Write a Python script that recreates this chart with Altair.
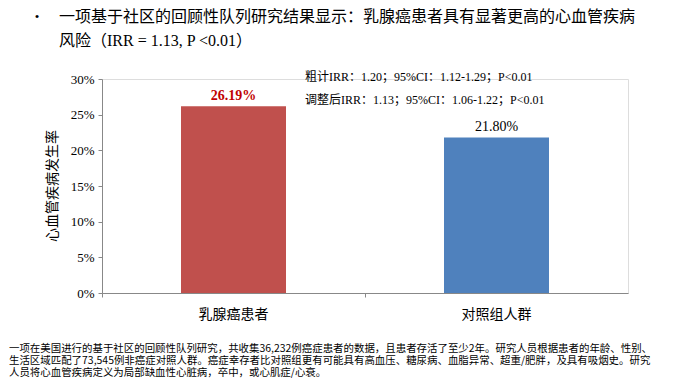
import altair as alt
import pandas as pd

categories = ["乳腺癌患者", "对照组人群"]
rates = [0.2619, 0.2180]
rate_labels = ["26.19%", "21.80%"]
bar_colors = ["#C0504D", "#4F81BD"]
y_ticks = [0, 0.05, 0.1, 0.15, 0.2, 0.25, 0.3]

title_lines = ["一项基于社区的回顾性队列研究结果显示：乳腺癌患者具有显著更高的心血管疾病",
               "风险（IRR = 1.13, P <0.01）"]
stat_lines = ["粗计IRR：1.20；95%CI：1.12-1.29；P<0.01",
              "调整后IRR：1.13；95%CI：1.06-1.22；P<0.01"]
foot_lines = ["一项在美国进行的基于社区的回顾性队列研究，共收集36,232例癌症患者的数据，且患者存活了至少2年。研究人员根据患者的年龄、性别、",
              "生活区域匹配了73,545例非癌症对照人群。癌症幸存者比对照组更有可能具有高血压、糖尿病、血脂异常、超重/肥胖，及具有吸烟史。研究",
              "人员将心血管疾病定义为局部缺血性心脏病，卒中，或心肌症/心衰。"]
y_title = "心血管疾病发生率"

FONT = "Liberation Serif, Noto Sans CJK SC"
CJK = "Noto Sans CJK SC, Liberation Serif"

df = pd.DataFrame({"cat": categories, "rate": rates, "lab": rate_labels, "color": bar_colors})

xenc = alt.X("cat:N", sort=categories,
             scale=alt.Scale(paddingInner=0, paddingOuter=0),
             axis=alt.Axis(title=None, labels=False, bandPosition=0, tickSize=4,
                           domainColor="#888888", tickColor="#888888"))
yenc = alt.Y("rate:Q", scale=alt.Scale(domain=[0, 0.3]),
             axis=alt.Axis(title=None, format=".0%", values=y_ticks, labelOverlap=False,
                           grid=False, tickSize=4, domainColor="#888888", tickColor="#888888",
                           labelFont=FONT, labelFontSize=13, labelColor="#000000", labelPadding=4))

base = alt.Chart(df)
bars = base.mark_bar(size=105).encode(x=xenc, y=yenc, color=alt.Color("color:N", scale=None))
lab_red = alt.Chart(df.iloc[[0]]).mark_text(dy=-10, font=FONT, fontSize=14, fontWeight="bold", color="#C00000").encode(
    x=xenc, y=yenc, text="lab:N")
lab_blue = alt.Chart(df.iloc[[1]]).mark_text(dy=-10, font=FONT, fontSize=14, color="#000000").encode(
    x=xenc, y=yenc, text="lab:N")
xlabels = base.mark_text(font=CJK, fontSize=14, baseline="middle").encode(
    x=xenc, y=alt.value(236), text="cat:N")

def txt(s, x, y, size, align="left", font=CJK, angle=0, color="#000000", baseline="middle"):
    d = pd.DataFrame({"t": [s]})
    kw = dict(align=align, baseline=baseline, font=font, fontSize=size, color=color)
    if angle:
        kw["angle"] = angle
    return alt.Chart(d).mark_text(**kw).encode(x=alt.value(x), y=alt.value(y), text="t:N")

layers = [bars, lab_red, lab_blue, xlabels,
          txt("•", -65, -58, 13, align="center", font="Liberation Serif", baseline="alphabetic"),
          txt(title_lines[0], -43, -62, 16, font=FONT),
          txt(title_lines[1], -43, -38, 16, font=FONT),
          txt(stat_lines[0], 203, -2, 12, font=FONT),
          txt(stat_lines[1], 203, 21, 12, font=FONT),
          txt(y_title, -49, 107, 14, align="center", angle=270)]
for i, s in enumerate(foot_lines):
    layers.append(txt(s, -93, 269.5 + i * 12.2, 10.45))

chart = alt.layer(*layers).properties(
    width=526, height=214,
    autosize=alt.AutoSizeParams(type="none"),
    padding={"left": 94, "top": 71, "right": 48, "bottom": 85},
).configure_view(stroke=None).configure(background="white")

chart.save("out.html", embed_options={"renderer": "svg", "actions": False})
